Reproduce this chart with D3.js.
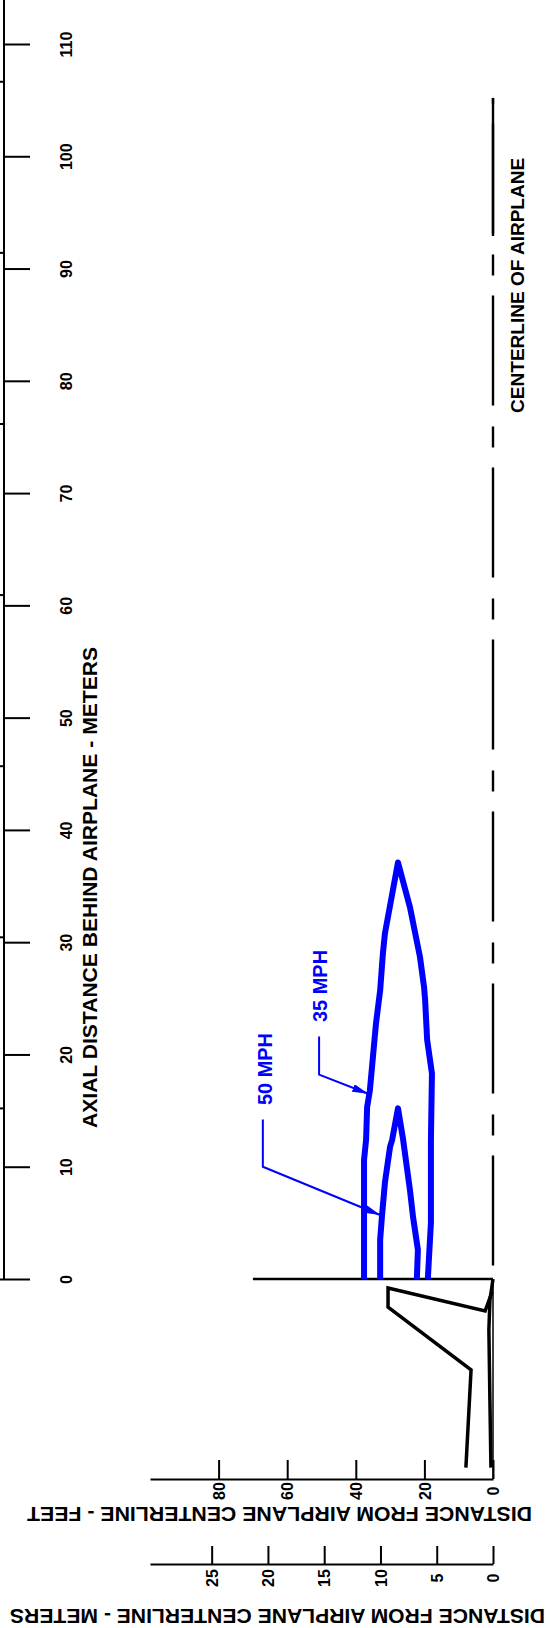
<!DOCTYPE html>
<html>
<head>
<meta charset="utf-8">
<script src="https://cdn.jsdelivr.net/npm/d3@7"></script>
<style>
  html, body { margin: 0; padding: 0; background: #fff; }
  svg { display: block; }
  text { font-family: "Liberation Sans", Arial, sans-serif; font-weight: bold; }
</style>
</head>
<body>
<svg id="chart" width="551" height="1628"></svg>
<script>
// ---------- data ----------
const axialTicksM   = [0, 10, 20, 30, 40, 50, 60, 70, 80, 90, 100, 110];
const axialTicksFt  = [0, 50, 100, 150, 200, 250, 300, 350];
const lateralTicksFt = [0, 20, 40, 60, 80];
const lateralTicksM  = [0, 5, 10, 15, 20, 25];

// 35 MPH contour (axial distance m, lateral distance ft)
const axial35 = [0, 10.6, 12.4, 15.3, 16.8, 19.8, 22.8, 25.7, 29.0, 30.8, 37.1, 33.1, 28.7, 26.0, 24.9, 21.3, 18.3, 12.4, 5.0, 0];
const lat35   = [37.6, 37.6, 37.0, 36.7, 35.9, 35.0, 34.1, 32.9, 32.1, 31.5, 27.7, 24.2, 21.3, 20.1, 19.8, 19.2, 17.8, 18.1, 18.1, 19.0];

// 50 MPH contour
const axial50 = [0, 3.5, 5.5, 8.6, 11.8, 12.4, 15.2, 12.4, 7.9, 5.5, 2.6, 0];
const lat50   = [32.9, 32.9, 32.4, 31.5, 30.0, 29.4, 27.7, 26.2, 24.2, 23.3, 21.9, 22.2];

// airplane outline (tail / stabilizer) and fuselage edge
const axialOutline = [-1.16, -2.85, -0.8, -2.5, -8.1, -16.8];
const latOutline   = [0.3, 2.3, 30.6, 30.6, 6.4, 7.9];
const axialFuse = [0, -1.9, -4.5, -10.8, -16.8];
const latFuse   = [0, 0.9, 1.2, 0.9, 0.6];

// labels with leader lines
const contourLabels = ["35 MPH", "50 MPH"];
const labelAxial = [26.1, 18.7];
const labelLat   = [50.4, 66.5];
const leaderAxial = [[21.6, 18.2, 16.5], [14.2, 10.0, 5.7]];
const leaderLat   = [[50.7, 50.7, 36.4], [67.1, 67.1, 32.9]];

// ---------- layout ----------
const svg = d3.select("#chart");
const blue = "#0000ff";
const yBase = 1279, yTop = 44;
const xZero = 493, xFar = 150;
const yFeetAxis = 1479, yMeterAxis = 1564;

const yAx = d3.scaleLinear().domain([0, 110]).range([yBase, yTop]);
const yAxFt = d3.scaleLinear().domain([0, 110 * 3.28084]).range([yBase, yTop]);
const xFt = d3.scaleLinear().domain([0, 100]).range([xZero, xFar]);
const xM  = d3.scaleLinear().domain([0, 100 / 3.28084]).range([xZero, xFar]);

// ---------- left (axial) axis ----------
svg.append("line")
  .attr("x1", 4).attr("x2", 4)
  .attr("y1", yAx(0)).attr("y2", yAx(114))
  .attr("stroke", "#000").attr("stroke-width", 2);

const gAx = svg.append("g").attr("transform", "translate(4,0)")
  .call(d3.axisRight(yAx).tickValues(axialTicksM).tickSize(26).tickSizeOuter(0));
gAx.select(".domain").remove();
gAx.selectAll(".tick line").attr("stroke", "#000").attr("stroke-width", 2);
gAx.selectAll(".tick text")
  .attr("x", null).attr("dy", "0.35em")
  .attr("text-anchor", "middle")
  .attr("transform", "translate(62,0) rotate(-90)")
  .attr("font-size", 16).attr("fill", "#000")
  .attr("font-family", "Liberation Sans, Arial, sans-serif").attr("font-weight", "bold");

const gAxFt = svg.append("g").attr("transform", "translate(4,0)")
  .call(d3.axisLeft(yAxFt).tickValues(axialTicksFt).tickSize(12).tickFormat(() => ""));
gAxFt.select(".domain").remove();
gAxFt.selectAll(".tick line").attr("stroke", "#000").attr("stroke-width", 2);

svg.append("text")
  .attr("transform", "translate(90,887.5) rotate(-90)")
  .attr("text-anchor", "middle").attr("dy", "0.35em")
  .attr("font-size", 20)
  .attr("textLength", 481).attr("lengthAdjust", "spacingAndGlyphs")
  .text("AXIAL DISTANCE BEHIND AIRPLANE - METERS");

// ---------- bottom axes ----------
const gFt = svg.append("g").attr("transform", `translate(0,${yFeetAxis})`)
  .call(d3.axisTop(xFt).tickValues(lateralTicksFt).tickSize(19).tickSizeOuter(0));
gFt.select(".domain").attr("stroke", "#000").attr("stroke-width", 2);
gFt.selectAll(".tick line").attr("stroke", "#000").attr("stroke-width", 2);
gFt.selectAll(".tick text")
  .attr("y", null).attr("dy", "0.35em")
  .attr("text-anchor", "middle")
  .attr("transform", "translate(0,12) rotate(-90)")
  .attr("font-size", 16).attr("fill", "#000")
  .attr("font-family", "Liberation Sans, Arial, sans-serif").attr("font-weight", "bold");

svg.append("text")
  .attr("transform", "translate(279.5,1514) rotate(180)")
  .attr("text-anchor", "middle").attr("dy", "0.35em")
  .attr("font-size", 20)
  .attr("textLength", 505).attr("lengthAdjust", "spacingAndGlyphs")
  .text("DISTANCE FROM AIRPLANE CENTERLINE - FEET");

const gM = svg.append("g").attr("transform", `translate(0,${yMeterAxis})`)
  .call(d3.axisTop(xM).tickValues(lateralTicksM).tickSize(18).tickSizeOuter(0));
gM.select(".domain").attr("stroke", "#000").attr("stroke-width", 2);
gM.selectAll(".tick line").attr("stroke", "#000").attr("stroke-width", 2);
gM.selectAll(".tick text")
  .attr("y", null).attr("dy", "0.35em")
  .attr("text-anchor", "middle")
  .attr("transform", "translate(0,14) rotate(-90)")
  .attr("font-size", 16).attr("fill", "#000")
  .attr("font-family", "Liberation Sans, Arial, sans-serif").attr("font-weight", "bold");

svg.append("text")
  .attr("transform", "translate(277.5,1616) rotate(180)")
  .attr("text-anchor", "middle").attr("dy", "0.35em")
  .attr("font-size", 20)
  .attr("textLength", 535).attr("lengthAdjust", "spacingAndGlyphs")
  .text("DISTANCE FROM AIRPLANE CENTERLINE - METERS");

// ---------- plot frame lines ----------
// axial zero baseline
svg.append("line")
  .attr("x1", xFt(0)).attr("x2", xFt(70))
  .attr("y1", yAx(0)).attr("y2", yAx(0))
  .attr("stroke", "#000").attr("stroke-width", 2.5);
// zero-lateral line down to feet axis
svg.append("line")
  .attr("x1", xFt(0)).attr("x2", xFt(0))
  .attr("y1", yAx(0)).attr("y2", yFeetAxis)
  .attr("stroke", "#000").attr("stroke-width", 1.5);

// centerline (dash-dot)
svg.append("line")
  .attr("x1", xFt(0)).attr("x2", xFt(0))
  .attr("y1", yAx(1.2)).attr("y2", yAx(105.2))
  .attr("stroke", "#000").attr("stroke-width", 2.4)
  .attr("stroke-dasharray", "110 20 21 21");
svg.append("line")
  .attr("x1", xFt(0)).attr("x2", xFt(0))
  .attr("y1", yAx(92.9)).attr("y2", yAx(105.2))
  .attr("stroke", "#000").attr("stroke-width", 2.4);

svg.append("text")
  .attr("transform", `translate(${xFt(-7.3)},${yAx(88.5)}) rotate(-90)`)
  .attr("text-anchor", "middle").attr("dy", "0.35em")
  .attr("font-size", 18)
  .attr("textLength", 255).attr("lengthAdjust", "spacingAndGlyphs")
  .text("CENTERLINE OF AIRPLANE");

// ---------- airplane outline ----------
const line = d3.line().x(d => xFt(d[1])).y(d => yAx(d[0]));
svg.append("path")
  .attr("d", line(d3.zip(axialOutline, latOutline)))
  .attr("fill", "none").attr("stroke", "#000").attr("stroke-width", 3.5)
  .attr("stroke-linejoin", "miter");
svg.append("path")
  .attr("d", line(d3.zip(axialFuse, latFuse)))
  .attr("fill", "none").attr("stroke", "#000").attr("stroke-width", 3.5);

// ---------- contours ----------
svg.append("path")
  .attr("d", line(d3.zip(axial35, lat35)))
  .attr("fill", "none").attr("stroke", blue).attr("stroke-width", 6)
  .attr("stroke-linejoin", "round");
svg.append("path")
  .attr("d", line(d3.zip(axial50, lat50)))
  .attr("fill", "none").attr("stroke", blue).attr("stroke-width", 6)
  .attr("stroke-linejoin", "round");

// arrow marker
svg.append("defs").append("marker")
  .attr("id", "arrow").attr("viewBox", "0 0 16 8")
  .attr("refX", 16).attr("refY", 4)
  .attr("markerWidth", 16).attr("markerHeight", 8)
  .attr("markerUnits", "userSpaceOnUse")
  .attr("orient", "auto")
  .append("path").attr("d", "M0,0 L16,4 L0,8 Z").attr("fill", blue);

contourLabels.forEach((lab, i) => {
  svg.append("path")
    .attr("d", line(d3.zip(leaderAxial[i], leaderLat[i])))
    .attr("fill", "none").attr("stroke", blue).attr("stroke-width", 2)
    .attr("marker-end", "url(#arrow)");
  svg.append("text")
    .attr("transform", `translate(${xFt(labelLat[i])},${yAx(labelAxial[i])}) rotate(-90)`)
    .attr("text-anchor", "middle").attr("dy", "0.35em")
    .attr("font-size", 20).attr("fill", blue)
    .attr("textLength", 72).attr("lengthAdjust", "spacingAndGlyphs")
    .text(lab);
});
</script>
</body>
</html>
